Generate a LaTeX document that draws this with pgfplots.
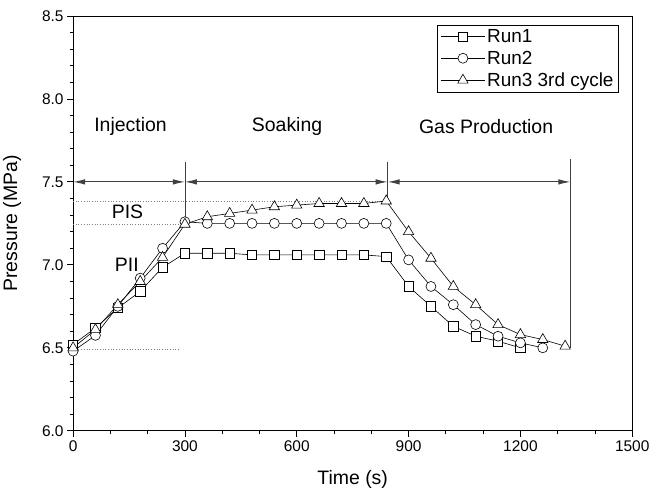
\documentclass[border=0pt]{standalone}
\usepackage{fontspec}
\setmainfont{Liberation Sans}
\usepackage{pgfplots}
\pgfplotsset{compat=1.18}
\usetikzlibrary{arrows.meta}
\begin{document}
\begin{tikzpicture}
\path[use as bounding box] (-73.3pt,-59pt) rectangle (577.5pt,432pt);
\begin{axis}[
  scale only axis, width=560.7pt, height=416pt,
  xmin=0, xmax=1500, ymin=6, ymax=8.5,
  xtick={0,300,...,1500}, ytick={6,6.5,...,8.5},
  minor x tick num=2, minor y tick num=4,
  tick align=outside, tick pos=left,
  major tick length=6pt, minor tick length=3.5pt,
  axis line style={line width=0.9pt},
  every tick/.style={black, line width=0.8pt},
  /pgf/number format/assume math mode=true,
  ticklabel style={font=\fontsize{15.5}{18}\selectfont},
  yticklabel style={/pgf/number format/fixed, /pgf/number format/fixed zerofill, /pgf/number format/precision=1},
  xticklabel style={/pgf/number format/fixed, /pgf/number format/1000 sep={}},
  xlabel={Time (s)}, ylabel={Pressure (MPa)},
  label style={font=\fontsize{19.5}{22}\selectfont},
  xlabel style={at={(axis description cs:0.5,-0.118)}, anchor=center},
  ylabel style={at={(axis description cs:-0.109,0.5)}, anchor=center},
  legend style={at={(axis description cs:0.976,0.978)}, anchor=north east, draw=black, line width=0.6pt,
    font=\fontsize{19}{21}\selectfont, inner xsep=3pt, inner ysep=2pt, row sep=3pt},
  legend cell align=left,
  legend image code/.code={\draw[mark repeat=2,mark phase=2] plot coordinates {(0pt,0pt)(22pt,0pt)(44pt,0pt)};},
  every axis plot/.append style={black, line width=0.6pt, mark options={fill=white, solid, line width=0.6pt}},
]
% annotations
\draw[gray, dotted, line width=0.7pt] (axis cs:0,7.385) -- (axis cs:830,7.385);
\draw[gray, dotted, line width=0.7pt] (axis cs:0,7.245) -- (axis cs:300,7.245);
\draw[gray, dotted, line width=0.7pt] (axis cs:0,6.49) -- (axis cs:285,6.49);
\draw[black!75, line width=0.8pt] (axis cs:300,7.62) -- (axis cs:300,7.27);
\draw[black!75, line width=0.8pt] (axis cs:844,7.62) -- (axis cs:844,7.40);
\draw[black!75, line width=0.8pt] (axis cs:1334,7.635) -- (axis cs:1334,6.50);
\draw[black!75, line width=1pt, {Latex[length=12pt,width=5.5pt]}-{Latex[length=12pt,width=5.5pt]}] (axis cs:0,7.5) -- (axis cs:300,7.5);
\draw[black!75, line width=1pt, {Latex[length=12pt,width=5.5pt]}-{Latex[length=12pt,width=5.5pt]}] (axis cs:300,7.5) -- (axis cs:844,7.5);
\draw[black!75, line width=1pt, {Latex[length=12pt,width=5.5pt]}-{Latex[length=12pt,width=5.5pt]}] (axis cs:844,7.5) -- (axis cs:1334,7.5);
\node[font=\fontsize{19.5}{22}\selectfont] at (axis cs:154,7.833) {Injection};
\node[font=\fontsize{19.5}{22}\selectfont] at (axis cs:574,7.833) {Soaking};
\node[font=\fontsize{19.5}{22}\selectfont] at (axis cs:1108,7.833) {Gas Production};
\node[font=\fontsize{19.5}{22}\selectfont] at (axis cs:146,7.32) {PIS};
\node[font=\fontsize{19.5}{22}\selectfont] at (axis cs:144,7.00) {PII};
\addplot[mark=square*, mark size=4.7pt] coordinates {
(0,6.52)(60,6.62)(120,6.74)(180,6.84)(240,6.985)(300,7.07)(360,7.07)(420,7.07)(480,7.06)(540,7.06)(600,7.06)(660,7.06)(720,7.06)(780,7.06)(840,7.05)(900,6.87)(960,6.75)(1020,6.63)(1080,6.57)(1140,6.54)(1200,6.50)};
\addlegendentry{Run1}
\addplot[mark=*, mark size=5pt] coordinates {
(0,6.48)(60,6.575)(120,6.75)(180,6.92)(240,7.10)(300,7.26)(360,7.25)(420,7.25)(480,7.25)(540,7.25)(600,7.25)(660,7.25)(720,7.25)(780,7.25)(840,7.25)(900,7.03)(960,6.87)(1020,6.76)(1080,6.64)(1140,6.57)(1200,6.53)(1260,6.50)};
\addlegendentry{Run2}
\addplot[mark=triangle*, mark size=6pt] coordinates {
(0,6.50)(60,6.61)(120,6.76)(180,6.90)(240,7.045)(300,7.245)(360,7.29)(420,7.31)(480,7.33)(540,7.35)(600,7.36)(660,7.37)(720,7.37)(780,7.37)(840,7.385)(900,7.20)(960,7.04)(1020,6.87)(1080,6.76)(1140,6.64)(1200,6.58)(1260,6.55)(1320,6.51)};
\addlegendentry{Run3 3rd cycle}
\end{axis}
\end{tikzpicture}
\end{document}
